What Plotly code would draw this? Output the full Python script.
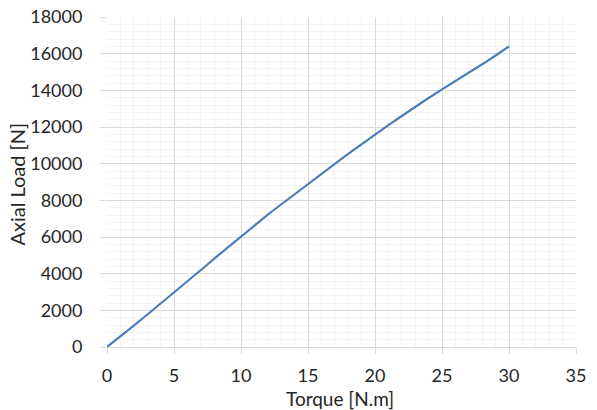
import plotly.graph_objects as go

torque = [0, 1, 2, 2.5, 3, 4, 5, 6, 7, 7.5, 8, 9, 10, 11, 12, 12.5, 13, 14, 15,
          16, 17, 17.5, 18, 19, 20, 21, 22, 22.5, 23, 24, 25, 26, 27, 27.5, 28, 29, 30]
axial_load = [0, 560, 1170, 1460, 1760, 2360, 2960, 3580, 4200, 4500, 4820, 5430, 6040,
              6640, 7220, 7500, 7780, 8350, 8900, 9450, 9980, 10260, 10530, 11070, 11600,
              12100, 12600, 12850, 13100, 13580, 14050, 14500, 14950, 15200, 15420, 15900, 16400]

x_ticks = [0, 5, 10, 15, 20, 25, 30, 35]
y_ticks = [0, 2000, 4000, 6000, 8000, 10000, 12000, 14000, 16000, 18000]

fig = go.Figure()
fig.add_trace(go.Scatter(x=torque, y=axial_load, mode="lines",
                         line=dict(color="#4a7ebb", width=2.2), showlegend=False))

font_family = "Lato, Open Sans, sans-serif"
fig.update_layout(
    width=597, height=410,
    margin=dict(l=107, r=21, t=17, b=63),
    paper_bgcolor="white", plot_bgcolor="white",
    font=dict(family=font_family, size=18, color="#262626"),
)
fig.update_xaxes(
    range=[0, 35], tickvals=x_ticks, ticktext=[str(v) for v in x_ticks],
    showgrid=True, gridcolor="#d9d9d9", gridwidth=1,
    minor=dict(dtick=1, showgrid=True, gridcolor="#f4f4f4", gridwidth=1),
    ticks="outside", ticklen=6, tickcolor="#d9d9d9",
    showline=True, linecolor="#d9d9d9", linewidth=1,
    zeroline=False, ticklabelstandoff=6, automargin=False,
)
fig.update_yaxes(
    range=[0, 18000], tickvals=y_ticks, ticktext=[str(v) for v in y_ticks],
    showgrid=True, gridcolor="#d9d9d9", gridwidth=1,
    minor=dict(dtick=400, showgrid=True, gridcolor="#f4f4f4", gridwidth=1),
    ticks="outside", ticklen=6, tickcolor="#d9d9d9",
    showline=False, zeroline=False, ticklabelstandoff=14, automargin=False,
)
fig.add_annotation(text="Torque [N.m]", xref="paper", yref="paper",
                   x=0.497, y=-0.155, showarrow=False,
                   xanchor="center", yanchor="middle",
                   font=dict(size=19, color="#262626"))
fig.add_annotation(text="Axial Load [N]", xref="paper", yref="paper",
                   x=-0.192, y=0.495, showarrow=False, textangle=-90,
                   xanchor="center", yanchor="middle",
                   font=dict(size=20, color="#262626"))

fig.write_html("out.html")
